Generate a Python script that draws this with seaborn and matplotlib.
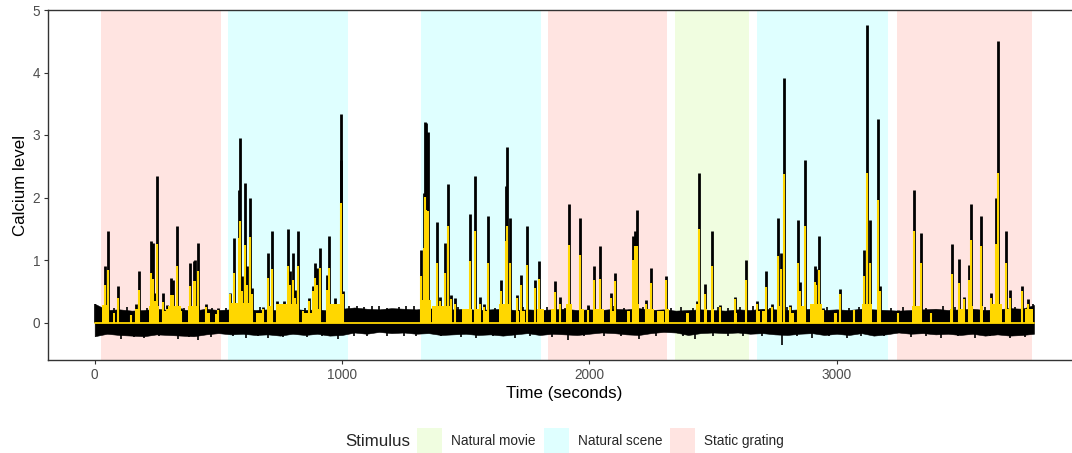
import numpy as np
import pandas as pd
import matplotlib
matplotlib.use("Agg")
import matplotlib.pyplot as plt
from matplotlib.patches import Patch
import seaborn as sns

# ---------------- data ----------------
epoch_start = [26, 539, 1319, 1831, 2345, 2676, 3245]
epoch_end = [511, 1024, 1803, 2316, 2646, 3207, 3790]
epoch_stim = ["Static grating", "Natural scene", "Natural scene", "Static grating",
              "Natural movie", "Natural scene", "Static grating"]
stim_levels = ["Natural movie", "Natural scene", "Static grating"]
stim_colors = ["#F0FDE0", "#DFFFFF", "#FFE4E1"]

# calcium events: time (s), raw black peak, yellow (fitted) peak
event_time = [40, 53, 96, 145, 168, 179, 229, 234, 242, 252, 276, 294, 310, 318, 334, 350,
              384, 401, 405, 418, 449, 499,
              547, 564, 583, 589, 597, 606, 614, 626, 638, 680, 702, 717, 736, 767, 782, 790,
              801, 810, 824, 844, 865, 883, 892, 897, 913, 939, 947, 973, 994, 997, 1006,
              1321, 1330, 1335, 1340, 1349, 1386, 1395, 1417, 1428, 1440, 1458, 1519, 1538,
              1558, 1575, 1590, 1642, 1665, 1668, 1678, 1709, 1722, 1749, 1779, 1795,
              1861, 1880, 1916, 1963, 1993, 2020, 2044, 2088, 2102, 2176, 2186, 2191, 2230,
              2249, 2312,
              2436, 2445, 2467, 2495, 2530, 2590, 2635,
              2679, 2716, 2740, 2761, 2776, 2786, 2812, 2844, 2850, 2871, 2911, 2918, 2930,
              2945, 2993, 3015, 3071, 3109, 3122, 3136, 3166, 3176,
              3250, 3311, 3341, 3383, 3467, 3494, 3513, 3534, 3542, 3583, 3625, 3643, 3654,
              3685, 3702, 3751, 3773]
black_peak = [0.90, 1.47, 0.58, 0.15, 0.30, 0.82, 1.30, 1.27, 0.47, 2.35, 0.47, 0.28, 0.71, 0.68, 1.55, 0.23,
              0.95, 0.98, 1.00, 1.27, 0.30, 0.23,
              0.47, 1.36, 2.12, 2.95, 0.74, 2.24, 0.90, 2.00, 0.55, 0.25, 1.11, 1.47, 0.34, 0.34, 1.49, 0.82,
              1.11, 0.52, 1.47, 0.20, 0.39, 0.58, 0.95, 0.87, 1.19, 0.76, 1.38, 0.39, 2.60, 3.34, 0.50,
              1.16, 2.08, 3.21, 3.19, 3.05, 1.61, 0.41, 1.27, 2.21, 0.44, 0.39, 1.73, 2.35,
              0.41, 0.30, 1.71, 0.68, 2.19, 2.81, 1.67, 0.44, 0.76, 1.55, 0.68, 0.98,
              0.66, 0.41, 1.90, 1.68, 0.28, 0.91, 1.23, 0.47, 0.80, 1.39, 1.46, 1.80, 0.36,
              0.87, 0.74,
              0.34, 2.40, 0.61, 1.47, 0.28, 0.41, 1.00,
              0.34, 0.82, 0.30, 1.67, 1.12, 3.92, 0.28, 1.64, 0.65, 2.60, 0.90, 0.85, 1.39,
              0.23, 0.18, 0.53, 0.20, 1.16, 4.76, 1.64, 3.25, 0.58,
              0.20, 2.12, 1.43, 0.18, 1.25, 1.01, 0.41, 0.92, 1.89, 1.70, 0.47, 1.99, 4.51,
              1.47, 0.52, 0.59, 0.38]
yellow_peak = [0.60, 0.84, 0.40, 0.12, 0.22, 0.52, 0.79, 0.70, 0.35, 1.26, 0.33, 0.22, 0.44, 0.44, 0.90, 0.18,
               0.59, 0.66, 0.66, 0.83, 0.25, 0.20,
               0.46, 0.79, 1.35, 1.62, 0.50, 1.24, 0.60, 1.37, 0.45, 0.22, 0.71, 0.85, 0.30, 0.30, 0.91, 0.60,
               0.68, 0.40, 0.90, 0.18, 0.35, 0.50, 0.71, 0.60, 0.87, 0.52, 0.88, 0.30, 1.48, 1.92, 0.45,
               0.74, 1.20, 2.01, 1.80, 1.79, 0.95, 0.35, 0.80, 1.54, 0.38, 0.30, 0.98, 1.46,
               0.30, 0.25, 0.96, 0.50, 1.30, 1.55, 0.95, 0.40, 0.60, 0.92, 0.55, 0.69,
               0.49, 0.30, 1.24, 1.08, 0.20, 0.68, 0.69, 0.40, 0.67, 1.00, 1.22, 1.22, 0.30,
               0.63, 0.68,
               0.30, 1.50, 0.45, 0.90, 0.25, 0.38, 0.68,
               0.30, 0.57, 0.25, 1.06, 0.85, 2.38, 0.25, 0.95, 0.50, 1.54, 0.65, 0.60, 0.84,
               0.20, 0.16, 0.45, 0.20, 0.75, 2.40, 0.95, 1.96, 0.50,
               0.15, 1.47, 0.96, 0.16, 0.78, 0.64, 0.38, 0.68, 1.32, 1.23, 0.40, 1.25, 2.39,
               0.95, 0.40, 0.50, 0.30]

# dense low-level fitted activity (yellow blocks): start, end, height
block_start = [30, 73, 141, 168, 221, 271, 298, 376, 447, 486,
               542, 652, 700, 733, 841, 881, 935,
               1319, 1364, 1487, 1540, 1575, 1635, 1702, 1722, 1788, 1843,
               1904, 1958, 2019, 2086, 2153, 2173, 2227, 2274, 2308,
               2389, 2436, 2463, 2490, 2584,
               2678, 2698, 2766, 2813, 2840, 2893, 2988, 3102, 3163,
               3304, 3459, 3492, 3540, 3580, 3627, 3688, 3762]
block_end = [57, 83, 148, 181, 262, 294, 351, 423, 467, 500,
             639, 679, 720, 827, 881, 909, 1009,
             1360, 1445, 1527, 1560, 1595, 1682, 1716, 1740, 1815, 1866,
             1931, 1978, 2059, 2099, 2166, 2200, 2261, 2301, 2321,
             2402, 2449, 2476, 2503, 2597,
             2692, 2712, 2779, 2826, 2873, 2941, 3001, 3143, 3176,
             3344, 3472, 3519, 3553, 3593, 3667, 3701, 3795]
block_height = [0.28, 0.15, 0.12, 0.22, 0.26, 0.19, 0.26, 0.26, 0.15, 0.14,
                0.32, 0.15, 0.26, 0.30, 0.15, 0.22, 0.30,
                0.36, 0.26, 0.22, 0.22, 0.19, 0.30, 0.19, 0.19, 0.22, 0.22,
                0.30, 0.22, 0.22, 0.19, 0.19, 0.30, 0.22, 0.19, 0.22,
                0.15, 0.26, 0.22, 0.22, 0.15,
                0.19, 0.19, 0.26, 0.15, 0.26, 0.30, 0.15, 0.30, 0.26,
                0.26, 0.22, 0.22, 0.26, 0.26, 0.30, 0.22, 0.22]

# baseline noise envelope of the raw trace
env_time = list(range(0, 3800, 50)) + [3798]
env_upper = [0.30, 0.20, 0.21, 0.19, 0.20, 0.22, 0.20, 0.21, 0.19, 0.22,
             0.20, 0.21, 0.23, 0.20, 0.21, 0.19, 0.22, 0.20, 0.21, 0.19,
             0.22, 0.24, 0.22, 0.21, 0.23, 0.22, 0.21, 0.23, 0.20, 0.21,
             0.22, 0.20, 0.21, 0.22, 0.20, 0.21, 0.20, 0.21, 0.22, 0.20,
             0.21, 0.20, 0.22, 0.21, 0.23, 0.20, 0.21, 0.19, 0.20, 0.21,
             0.20, 0.19, 0.21, 0.20, 0.22, 0.21, 0.20, 0.21, 0.22, 0.20,
             0.21, 0.20, 0.22, 0.21, 0.20, 0.19, 0.20, 0.21, 0.22, 0.20,
             0.21, 0.22, 0.20, 0.21, 0.23, 0.22, 0.28]
env_lower = [-0.22, -0.18, -0.20, -0.21, -0.22, -0.19, -0.20, -0.21, -0.22, -0.19,
             -0.17, -0.19, -0.18, -0.20, -0.19, -0.21, -0.18, -0.20, -0.18, -0.21,
             -0.20, -0.16, -0.18, -0.15, -0.17, -0.16, -0.18, -0.17, -0.20, -0.19,
             -0.18, -0.20, -0.19, -0.21, -0.19, -0.17, -0.20, -0.18, -0.19, -0.20,
             -0.18, -0.16, -0.17, -0.19, -0.20, -0.17, -0.15, -0.16, -0.20, -0.17,
             -0.16, -0.17, -0.16, -0.18, -0.17, -0.19, -0.20, -0.18, -0.17, -0.20,
             -0.18, -0.20, -0.17, -0.21, -0.19, -0.16, -0.18, -0.17, -0.19, -0.18,
             -0.20, -0.18, -0.21, -0.19, -0.21, -0.20, -0.18]
# occasional noise excursions of the raw trace
dip_time = [105, 160, 200, 260, 335, 380, 418, 470, 560, 610, 660, 700, 760, 860, 920, 985,
            1050, 1100, 1180, 1250, 1300, 1400, 1480, 1540, 1610, 1700, 1760, 1850, 1914,
            1980, 2060, 2130, 2200, 2270, 2380, 2429, 2500, 2560, 2620, 2700, 2779, 2840,
            2900, 2970, 3040, 3100, 3190, 3300, 3360, 3420, 3490, 3560, 3620, 3700, 3760]
dip_value = [-0.26, -0.23, -0.24, -0.22, -0.26, -0.23, -0.28, -0.23, -0.22, -0.24, -0.22, -0.25,
             -0.23, -0.23, -0.22, -0.26, -0.21, -0.22, -0.21, -0.21, -0.22, -0.22, -0.23, -0.25,
             -0.22, -0.24, -0.22, -0.23, -0.28, -0.21, -0.22, -0.21, -0.27, -0.22, -0.21, -0.26,
             -0.21, -0.22, -0.21, -0.22, -0.36, -0.22, -0.24, -0.21, -0.25, -0.22, -0.22, -0.23,
             -0.21, -0.25, -0.22, -0.24, -0.22, -0.25, -0.23]
bump_time = [0, 80, 130, 210, 360, 420, 475, 530, 670, 850, 1030, 1060, 1090, 1120, 1150,
             1180, 1230, 1260, 1290, 1470, 1560, 1620, 1730, 1830, 1900, 2000, 2100, 2140,
             2215, 2330, 2370, 2420, 2520, 2560, 2610, 2660, 2730, 2800, 2960, 3050, 3090,
             3220, 3270, 3360, 3430, 3480, 3600, 3720, 3795]
bump_value = [0.30, 0.24, 0.25, 0.24, 0.24, 0.26, 0.24, 0.24, 0.25, 0.24, 0.26, 0.27, 0.25,
              0.26, 0.26, 0.24, 0.25, 0.26, 0.27, 0.25, 0.24, 0.24, 0.25, 0.25, 0.24, 0.25,
              0.26, 0.24, 0.25, 0.24, 0.25, 0.24, 0.25, 0.24, 0.25, 0.26, 0.24, 0.25, 0.25,
              0.24, 0.25, 0.24, 0.25, 0.24, 0.26, 0.25, 0.25, 0.25, 0.30]

x_ticks = [0, 1000, 2000, 3000]
y_ticks = [0, 1, 2, 3, 4, 5]

# ---------------- figure ----------------
sns.set_theme(style="white")
plt.rcParams["font.family"] = ["Liberation Sans", "DejaVu Sans"]

W, H = 1072, 453
fig = plt.figure(figsize=(W / 100, H / 100), dpi=100)
left_px, right_px, top_px, bot_px = 47.7, 1081, 10, 360
ax = fig.add_axes([left_px / W, 1 - bot_px / H, (right_px - left_px) / W, (bot_px - top_px) / H])

color_of = dict(zip(stim_levels, stim_colors))
for s, e, st in zip(epoch_start, epoch_end, epoch_stim):
    ax.axvspan(s, e, color=color_of[st], lw=0, zorder=0)

# raw trace (black)
ax.fill_between(env_time, env_lower, env_upper, color="black", lw=0.4, edgecolor="black", zorder=2)
ax.vlines(dip_time, 0, dip_value, color="black", lw=1.2, zorder=2)
ax.vlines(bump_time, 0, bump_value, color="black", lw=1.2, zorder=2)
ax.vlines(event_time, 0, black_peak, color="black", lw=2.0, zorder=3)

# fitted trace (yellow)
bw = np.array(block_end) - np.array(block_start)
ax.bar(block_start, block_height, width=bw, align="edge", color="#FFD700", lw=0, zorder=4)
ax.vlines(event_time, 0, yellow_peak, color="#FFD700", lw=1.5, zorder=5)
base = pd.DataFrame({"t": [0, 3798], "v": [0, 0]})
sns.lineplot(data=base, x="t", y="v", color="#FFD700", lw=1.3, ax=ax, zorder=6)

ax.set_xlim(-190, 3988)
ax.set_ylim(-0.6, 5.0)
ax.set_xticks(x_ticks)
ax.set_yticks(y_ticks)
ax.set_xticklabels([str(v) for v in x_ticks])
ax.set_yticklabels([str(v) for v in y_ticks])
ax.tick_params(axis="both", which="both", direction="out", length=3, width=0.8,
               color="#333333", labelsize=9.8, labelcolor="#4D4D4D", pad=2.5,
               bottom=True, left=True)
for side in ["left", "bottom", "top", "right"]:
    ax.spines[side].set_color("#333333")
    ax.spines[side].set_linewidth(1.0)
ax.set_xlabel("Time (seconds)", fontsize=12.2, color="black", labelpad=3)
ax.set_ylabel("Calcium level", fontsize=12.2, color="black", labelpad=3)
ax.grid(False)

# legend
handles = [Patch(facecolor=c, edgecolor="none") for c in stim_colors]
fig.text(345 / W, 1 - 442 / H, "Stimulus", fontsize=12.2, ha="left", va="center")
fig.legend(handles, stim_levels, loc="center left", bbox_to_anchor=(417 / W, 1 - 440.5 / H),
           ncol=3, frameon=False, fontsize=9.8, handlelength=1.84, handleheight=2.55,
           handletextpad=0.66, columnspacing=0.6, borderpad=0, borderaxespad=0)

fig.savefig("out.png", dpi=100)
